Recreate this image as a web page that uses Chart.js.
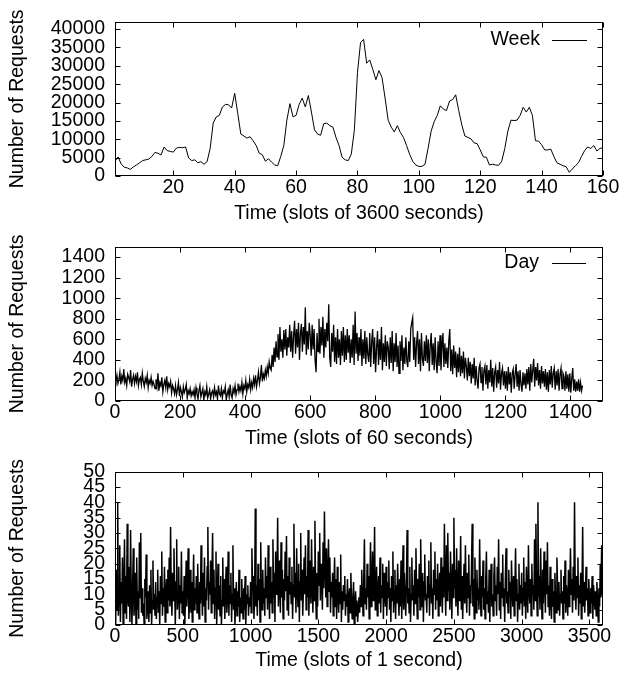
<!DOCTYPE html>
<html>
<head>
<meta charset="utf-8">
<script src="https://cdn.jsdelivr.net/npm/chart.js@4.4.0/dist/chart.umd.min.js"></script>
<style>
  html, body { margin: 0; padding: 0; background: #fff; }
  #wrap { position: relative; width: 631px; height: 675px; }
  canvas { position: absolute; left: 0; }
</style>
</head>
<body>
<div id="wrap">
  <canvas id="weekChart" width="631" height="225" style="top:0"></canvas>
  <canvas id="dayChart" width="631" height="225" style="top:225px"></canvas>
  <canvas id="secChart" width="631" height="225" style="top:450px"></canvas>
</div>
<script>
// --- DATA ---
// requests per hour, slots 1..160
const weekValues = [
  4000,5200,3300,2400,2200,1800,2500,3000,3600,4200,
  4400,4600,5300,6400,6200,5700,7900,6900,6700,6500,
  7600,7800,7700,7900,4900,4200,4400,3600,3900,3200,
  3900,7500,14400,16100,16500,18800,19500,19400,18500,22500,
  17000,11400,10900,10300,10700,9600,8300,6200,5800,4000,
  4700,3800,3000,2800,5300,8300,15200,19700,16100,16500,
  19500,21200,18800,21900,17400,12600,11400,11100,14200,14400,
  13700,13300,10500,8300,5100,4400,4200,6000,12600,28100,
  36300,37200,30700,31600,29000,26200,28700,26800,21200,15200,
  13300,12000,13700,11800,10500,8300,5900,4000,3000,2600,
  2600,3200,7500,12200,14800,16500,19100,18200,17800,20400,
  20800,22100,17800,13900,10900,10500,10100,9000,8800,7100,
  5200,5100,3000,3200,3000,2900,4000,7500,12200,15200,
  15100,15200,16500,18700,17400,18700,16500,9600,9500,8500,
  7100,7100,7300,5300,3600,3200,2800,2500,1000,1900,
  2800,3600,5300,6900,7900,7500,8300,6800,7500,7700
];
const weekFirstSlot = 1;

// requests per minute, read every 3rd slot (0..1437)
const dayStep = 3;
const dayValues = [
  230,190,250,170,210,280,160,240,200,310,180,220,150,260,230,190,300,140,210,250,
  170,240,190,280,150,210,230,160,270,190,140,220,180,250,130,200,170,230,150,190,
  160,120,210,140,270,100,180,150,230,90,160,200,130,240,110,170,140,190,80,150,
  120,70,150,60,110,180,50,130,90,40,140,80,110,160,30,100,70,120,50,90,
  60,110,30,130,70,20,100,150,40,80,120,10,90,60,140,30,70,110,20,80,
  100,40,130,60,90,20,150,70,50,120,30,100,80,140,10,70,110,40,160,60,
  30,120,80,150,60,110,170,90,140,100,180,70,150,120,200,90,160,130,210,110,
  180,130,220,160,250,140,200,280,170,230,350,190,260,220,300,240,330,270,380,320,
  300,450,330,520,380,580,430,650,400,720,480,600,420,690,500,700,440,620,520,740,
  480,680,420,640,780,460,700,520,760,400,650,750,480,720,550,910,450,680,500,760,
  640,440,740,500,700,400,280,660,480,800,460,720,540,820,420,700,520,760,580,940,
  420,330,660,480,740,380,620,360,700,420,600,350,680,440,720,380,640,400,700,470,
  640,370,600,420,740,350,870,460,660,390,620,440,700,340,600,410,680,360,620,450,
  380,660,330,580,700,360,620,280,520,680,350,600,400,720,300,560,380,640,340,580,
  520,310,620,370,680,290,560,380,660,330,540,270,580,390,640,300,520,360,620,390,
  330,580,380,700,760,810,400,620,330,560,680,360,600,290,660,410,340,580,390,640,
  370,600,290,540,660,350,560,300,620,380,270,580,340,640,300,520,660,330,560,360,
  520,320,580,700,290,500,260,540,320,480,230,460,280,520,240,440,270,480,220,420,
  340,200,420,240,380,170,360,220,420,150,340,200,120,320,360,180,330,100,300,340,
  160,350,120,300,180,400,140,320,90,280,330,130,300,170,380,110,270,320,150,290,
  120,290,100,330,160,280,80,270,310,120,260,360,140,290,100,300,160,90,280,150,
  270,120,310,160,330,100,360,180,300,410,140,330,200,370,150,300,120,340,170,290,
  140,310,110,280,90,300,160,340,130,270,320,110,290,150,310,100,260,320,120,270,
  240,100,290,120,260,90,270,80,220,320,100,210,90,190,100,210,90,180,100,150
];

// requests per second, read every 5th slot (0..3595)
const secStep = 5;
const secValues = [
  12,0,18,5,40,3,9,26,1,14,7,22,0,11,28,4,16,2,33,8,
  6,19,1,31,10,0,13,25,3,8,17,0,22,5,11,2,27,9,30,4,
  12,3,7,0,15,9,23,2,6,11,1,13,4,18,0,8,21,5,10,3,
  14,2,9,18,4,11,0,16,7,24,3,12,6,19,1,9,15,4,18,8,
  22,6,32,10,3,17,8,25,12,0,14,28,5,10,19,2,13,7,24,4,
  11,3,16,0,9,21,6,13,25,2,8,18,4,14,1,10,23,5,12,7,
  16,4,20,9,2,14,7,26,11,3,17,6,22,1,12,8,19,32,5,14,
  10,21,4,15,30,7,18,2,12,24,0,9,20,5,13,3,16,0,8,22,
  6,15,2,11,19,4,9,24,3,13,7,17,1,10,26,5,12,0,8,14,
  3,11,6,18,1,9,4,15,8,2,12,5,16,0,10,7,13,3,9,6,
  14,4,25,11,16,2,9,38,6,13,3,20,8,15,1,27,10,5,18,7,
  12,3,22,9,16,5,26,11,2,19,7,14,4,28,9,17,1,24,10,13,
  35,6,21,12,4,27,9,18,2,15,8,24,11,29,5,16,3,22,10,14,
  7,19,2,13,33,9,17,4,25,11,6,20,1,14,30,8,18,3,12,22,
  10,26,5,16,9,31,3,14,21,7,28,12,4,19,8,34,11,2,17,6,
  24,13,30,8,20,15,5,27,12,37,18,9,25,6,16,28,11,22,4,14,
  9,17,3,12,22,6,15,2,19,10,4,14,7,23,1,11,5,13,8,16,
  3,10,6,15,1,8,12,4,17,7,2,9,14,0,6,11,3,8,1,5,
  9,4,13,6,18,10,3,15,28,7,12,5,20,9,16,2,11,27,6,13,
  24,8,15,32,5,12,19,3,10,16,7,22,4,13,9,20,2,17,11,6,
  19,3,14,9,21,5,12,1,16,8,24,4,11,18,2,13,7,20,10,3,
  15,6,21,2,11,26,5,17,9,3,14,31,7,12,4,19,1,10,22,8,
  13,3,18,7,25,11,2,15,9,20,5,28,12,6,17,1,14,23,8,10,
  4,16,9,21,3,13,27,7,12,2,18,10,24,5,15,8,20,3,11,17,
  6,22,12,4,19,9,33,14,3,26,8,30,11,17,5,24,13,2,20,9,
  35,12,18,6,25,10,3,21,8,14,29,5,16,2,12,20,7,26,11,4,
  17,9,23,3,13,7,19,33,6,15,2,22,10,4,18,8,12,5,28,11,
  3,16,9,21,5,12,2,15,24,7,11,4,18,1,13,20,6,10,3,16,
  22,8,13,3,19,10,28,5,14,2,17,9,23,6,12,1,16,25,7,11,
  4,18,9,14,2,21,11,6,16,3,12,25,8,15,1,10,20,5,13,7,
  17,3,12,22,6,14,2,19,9,4,26,11,7,15,3,20,10,13,5,28,
  8,33,12,3,40,9,16,5,25,11,2,18,7,24,14,4,21,10,27,6,
  13,3,19,8,2,15,6,11,1,17,9,4,22,12,5,14,3,10,18,7,
  11,2,16,7,21,4,13,9,3,18,6,12,25,10,15,4,19,8,40,12,
  5,16,9,22,3,13,7,17,2,11,32,6,14,4,10,19,8,12,3,15,
  9,4,12,7,16,2,13,10,5,11,3,14,8,1,12,6,20,9,26,10
];

// tick labels
const weekXTicks = [20, 40, 60, 80, 100, 120, 140, 160];
const weekYTicks = [0, 5000, 10000, 15000, 20000, 25000, 30000, 35000, 40000];
const dayXTicks = [0, 200, 400, 600, 800, 1000, 1200, 1400];
const dayYTicks = [0, 200, 400, 600, 800, 1000, 1200, 1400];
const secXTicks = [0, 500, 1000, 1500, 2000, 2500, 3000, 3500];
const secYTicks = [0, 5, 10, 15, 20, 25, 30, 35, 40, 45, 50];

const FONT = "'Liberation Sans', Arial, Helvetica, sans-serif";
const FONT_SIZE = 19.5;
Chart.defaults.font.family = FONT;
Chart.defaults.font.size = FONT_SIZE;
Chart.defaults.color = '#000';

// gnuplot style frame, inward mirrored ticks and key
const gnuFrame = {
  id: 'gnuFrame',
  afterDatasetsDraw(chart, args, opts) {
    const { ctx, chartArea: a, scales: { x, y } } = chart;
    const L = Math.round(a.left) + 0.5, R = Math.round(a.right) - 0.5;
    const T = Math.round(a.top) + 0.5, B = Math.round(a.bottom) - 0.5;
    const tl = 5;
    ctx.save();
    ctx.strokeStyle = '#000';
    ctx.lineWidth = 1;
    ctx.strokeRect(L, T, R - L, B - T);
    ctx.beginPath();
    x.ticks.forEach(t => {
      const px = Math.round(x.getPixelForValue(t.value)) + 0.5;
      ctx.moveTo(px, B); ctx.lineTo(px, B - tl);
      ctx.moveTo(px, T); ctx.lineTo(px, T + tl);
    });
    y.ticks.forEach(t => {
      const py = Math.round(y.getPixelForValue(t.value)) + 0.5;
      ctx.moveTo(L, py); ctx.lineTo(L + tl, py);
      ctx.moveTo(R, py); ctx.lineTo(R - tl, py);
    });
    ctx.stroke();

    // key, text first then sample line
    const ds = chart.data.datasets[0];
    if (opts.show) {
      ctx.font = FONT_SIZE + 'px ' + FONT;
      ctx.fillStyle = '#000';
      ctx.textAlign = 'right';
      ctx.textBaseline = 'middle';
      ctx.fillText(ds.label, opts.textRight, opts.y);
      ctx.beginPath();
      ctx.moveTo(opts.lineFrom, opts.y + 0.5);
      ctx.lineTo(opts.lineTo, opts.y + 0.5);
      ctx.strokeStyle = ds.borderColor;
      ctx.lineWidth = 1;
      ctx.stroke();
    }
    ctx.restore();
  }
};

function toPoints(values, first, step) {
  return values.map((v, i) => ({ x: first + i * step, y: v }));
}

function makeChart(id, cfg) {
  const ctx = document.getElementById(id).getContext('2d');
  return new Chart(ctx, {
    type: 'line',
    data: {
      datasets: [{
        label: cfg.label,
        data: cfg.points,
        borderColor: '#000',
        borderWidth: cfg.lineWidth,
        pointRadius: 0,
        tension: 0,
        fill: false
      }]
    },
    options: {
      responsive: false,
      animation: false,
      parsing: false,
      normalized: true,
      events: [],
      layout: { padding: { top: cfg.top, right: 28, left: 0, bottom: 0 } },
      scales: {
        x: {
          type: 'linear',
          min: cfg.xMin, max: cfg.xMax,
          afterBuildTicks: s => { s.ticks = cfg.xTicks.map(v => ({ value: v })); },
          afterFit: s => { s.height = cfg.xHeight; },
          grid: { display: false, drawTicks: false },
          border: { display: false },
          ticks: { autoSkip: false, maxRotation: 0, padding: 0, callback: v => String(v) },
          title: { display: true, text: cfg.xTitle, padding: { top: 0, bottom: cfg.titlePad } }
        },
        y: {
          type: 'linear',
          min: 0, max: cfg.yMax,
          afterBuildTicks: s => { s.ticks = cfg.yTicks.map(v => ({ value: v })); },
          afterFit: s => { s.width = 115; },
          grid: { display: false, drawTicks: false },
          border: { display: false },
          ticks: { autoSkip: false, padding: 10, callback: v => String(v) },
          title: { display: true, text: 'Number of Requests', padding: { top: 6, bottom: 0 } }
        }
      },
      plugins: {
        legend: { display: false },
        tooltip: { enabled: false },
        gnuFrame: cfg.key
      }
    },
    plugins: [gnuFrame]
  });
}

window.addEventListener('DOMContentLoaded', () => {
  makeChart('weekChart', {
    label: 'Week', lineWidth: 1,
    points: toPoints(weekValues, weekFirstSlot, 1),
    xMin: 1, xMax: 160, yMax: 42000,
    xTicks: weekXTicks, yTicks: weekYTicks,
    xTitle: 'Time (slots of 3600 seconds)',
    top: 13, xHeight: 49, titlePad: 0,
    key: { show: true, textRight: 540, y: 40, lineFrom: 552, lineTo: 587 }
  });
  makeChart('dayChart', {
    label: 'Day', lineWidth: 1.3,
    points: toPoints(dayValues, 0, dayStep),
    xMin: 0, xMax: 1500, yMax: 1500,
    xTicks: dayXTicks, yTicks: dayYTicks,
    xTitle: 'Time (slots of 60 seconds)',
    top: 13, xHeight: 49, titlePad: 0,
    key: { show: true, textRight: 539, y: 38, lineFrom: 552, lineTo: 586 }
  });
  makeChart('secChart', {
    label: 'Second', lineWidth: 1.5,
    points: toPoints(secValues, 0, secStep),
    xMin: 0, xMax: 3600, yMax: 50,
    xTicks: secXTicks, yTicks: secYTicks,
    xTitle: 'Time (slots of 1 second)',
    top: 12, xHeight: 50, titlePad: 3,
    key: { show: false }
  });
});
</script>
</body>
</html>
